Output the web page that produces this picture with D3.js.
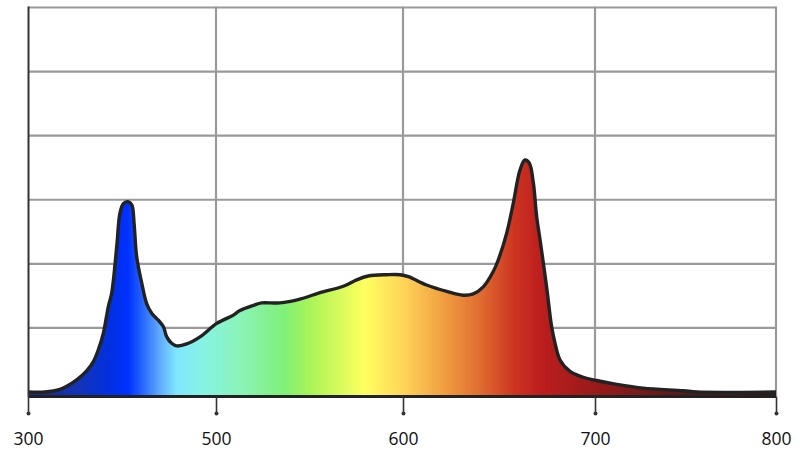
<!DOCTYPE html>
<html><head><meta charset="utf-8">
<script src="https://cdn.jsdelivr.net/npm/d3@7"></script>
<style>body{margin:0;background:#fff}svg{display:block}</style>
</head><body>
<svg id="chart" width="800" height="457"></svg>
<script>
// ---- data ----
const wavelengths = [400,409,417,420.6,425.9,431.2,434.7,437.4,440.1,442.7,444.5,447.2,448.9,450.7,453,455.2,456.4,457.8,460.5,463.1,465.8,469.3,472,473.8,476.4,479.1,484.4,491.5,500.4,509.3,512.8,519.9,524.4,534.2,544.9,555.6,568.1,575.2,581.4,591.3,598.4,602.8,612.3,622.8,631.4,636.6,641.8,647,649.6,654,657.4,660.9,663.5,665.8,667.9,669.6,671.4,674.8,677.4,679.2,681.8,687,693.9,700.9,712,726.7,748.8,756.2,800];
const intensity   = [0,0,0.04,0.09,0.19,0.33,0.47,0.66,0.92,1.33,1.54,2.27,2.79,2.94,2.97,2.92,2.64,2.11,1.70,1.38,1.23,1.12,1.02,0.86,0.76,0.72,0.75,0.86,1.07,1.20,1.27,1.35,1.39,1.39,1.45,1.55,1.65,1.75,1.81,1.83,1.83,1.80,1.67,1.57,1.51,1.53,1.64,1.88,2.06,2.48,2.94,3.46,3.62,3.57,3.26,2.74,2.37,1.64,1.02,0.76,0.50,0.32,0.23,0.18,0.12,0.06,0.02,0,0];
const tickValues = [400,500,600,700,800];
const tickLabels = ["300","500","600","700","800"];
const gridLevels = [1,2,3,4,5,6];
const gridWavelengths = [500,600,700,800];
const stopWavelengths = [400,427.7,443.6,453,459.6,470,479,491.5,512.8,536.5,549.9,579.7,598.4,619.3,640.1,658.3,671.4,702.8,747,800];
const stopColors = ["#1b2a8c","#1234b8","#0230e0","#0030ff","#1f5cff","#5faaff","#7fe6ff","#86f2e6","#8af4b8","#80f078","#a8f458","#ffff60","#ffd85a","#f2a444","#e06c30","#cc3421","#bd1e1e","#951a1a","#5a1a1a","#2c1c1c"];

// ---- chart ----
const svg = d3.select("#chart");
const x = d3.scaleLinear().domain([400,500,600,700,800]).range([28,216,403,595,776]);
const y = d3.scaleLinear().domain([0,6]).range([392,7.5]);
const base = y(0) + 4.5;
const pts = wavelengths.map((w,i)=>({w, v: intensity[i]}));

// gradient
const defs = svg.append("defs");
const grad = defs.append("linearGradient").attr("id","spec")
  .attr("gradientUnits","userSpaceOnUse")
  .attr("x1", x(400)).attr("x2", x(800)).attr("y1",0).attr("y2",0);
const span = x(800) - x(400);
stopWavelengths.forEach((w,i)=>{
  grad.append("stop").attr("offset", (x(w)-x(400))/span).attr("stop-color", stopColors[i]);
});

// grid
const grid = svg.append("g").attr("stroke","#9a9a9a").attr("stroke-width",2.2);
grid.selectAll("line.h").data(gridLevels).join("line").attr("class","h")
  .attr("x1", x(400)).attr("x2", x(800)).attr("y1", d=>y(d)).attr("y2", d=>y(d));
grid.selectAll("line.v").data(gridWavelengths).join("line").attr("class","v")
  .attr("x1", d=>x(d)).attr("x2", d=>x(d)).attr("y1", y(6)-1).attr("y2", base);

// area
const curve = d3.curveCatmullRom.alpha(0.5);
const area = d3.area().x(d=>x(d.w)).y0(base).y1(d=>y(d.v)).curve(curve);
svg.append("path").datum(pts).attr("d", area).attr("fill","url(#spec)");
const line = d3.line().x(d=>x(d.w)).y(d=>y(d.v)).curve(curve);
svg.append("path").datum(pts).attr("d", line).attr("fill","none")
  .attr("stroke","#222").attr("stroke-width",3.4).attr("stroke-linejoin","round");

// baseline & left axis
svg.append("line").attr("x1", x(400)).attr("x2", x(800)).attr("y1", base).attr("y2", base)
  .attr("stroke","#222").attr("stroke-width",3);
svg.append("line").attr("x1", x(400)+0.5).attr("x2", x(400)+0.5).attr("y1", y(6)-1).attr("y2", base)
  .attr("stroke","#333").attr("stroke-width",2);

// x axis
const tickLen = 17;
const ax = svg.append("g").attr("transform", `translate(0,${base})`)
  .call(d3.axisBottom(x).tickValues(tickValues).tickFormat((d,i)=>tickLabels[i])
        .tickSize(tickLen).tickPadding(19));
ax.select(".domain").remove();
ax.selectAll(".tick line").attr("stroke","#333").attr("stroke-width",1.6);
ax.selectAll(".tick").append("circle").attr("cy", tickLen).attr("r",2).attr("fill","#333");
ax.selectAll(".tick text").attr("font-family","'Open Sans', sans-serif").attr("font-size",17.5).attr("fill","#111");
</script>
</body></html>
